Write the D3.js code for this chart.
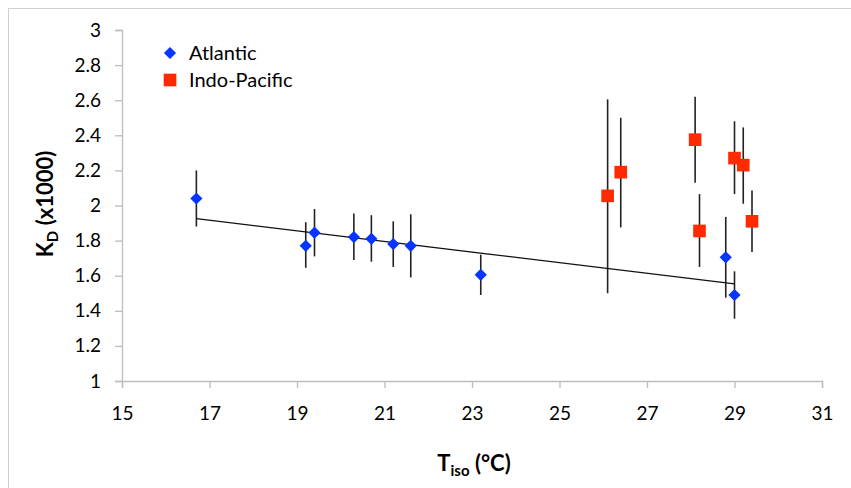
<!DOCTYPE html>
<html>
<head>
<meta charset="utf-8">
<script src="https://cdn.jsdelivr.net/npm/d3@7"></script>
<style>
  body { margin: 0; background: #fff; }
  svg text { font-family: Lato, "Open Sans", sans-serif; fill: #000; }
</style>
</head>
<body>
<svg width="851" height="488"></svg>
<script>
// Atlantic samples: temperature, KD and error bar ends
var atlT  = [16.7, 19.2, 19.4, 20.3, 20.7, 21.2, 21.6, 23.2, 28.8, 29.0];
var atlK  = [2.04, 1.77, 1.845, 1.82, 1.81, 1.78, 1.77, 1.605, 1.705, 1.49];
var atlLo = [1.88, 1.645, 1.71, 1.69, 1.68, 1.65, 1.59, 1.49, 1.475, 1.355];
var atlHi = [2.20, 1.905, 1.98, 1.955, 1.945, 1.91, 1.95, 1.72, 1.935, 1.625];

// Indo-Pacific samples
var ipT  = [26.1, 26.4, 28.1, 28.2, 29.0, 29.2, 29.4];
var ipK  = [2.055, 2.19, 2.375, 1.855, 2.27, 2.23, 1.91];
var ipLo = [1.50, 1.875, 2.13, 1.65, 2.065, 2.01, 1.735];
var ipHi = [2.605, 2.50, 2.62, 2.065, 2.48, 2.445, 2.085];

// Trend line through the Atlantic points
var fitT = [16.7, 29.0];
var fitK = [1.925, 1.553];

var xTicks = [15, 17, 19, 21, 23, 25, 27, 29, 31];
var yTicks = [1, 1.2, 1.4, 1.6, 1.8, 2, 2.2, 2.4, 2.6, 2.8, 3];

var svg = d3.select('svg');

// outer chart border (Excel style)
svg.append('rect')
  .attr('x', 8.5).attr('y', 8.5)
  .attr('width', 900).attr('height', 520)
  .attr('fill', 'none').attr('stroke', '#cfcfcf').attr('stroke-width', 1);

var x = d3.scaleLinear().domain([15, 31]).range([122, 822]);
var y = d3.scaleLinear().domain([1, 3]).range([381, 30]);

// axes
var xAxis = d3.axisBottom(x).tickValues(xTicks).tickSize(7).tickPadding(19).tickFormat(d3.format('d'));
var yAxis = d3.axisLeft(y).tickValues(yTicks).tickSize(7).tickPadding(14).tickFormat(d => d3.format('.1~f')(d));

var gx = svg.append('g').attr('transform', 'translate(0,' + y(1) + ')').call(xAxis);
var gy = svg.append('g').attr('transform', 'translate(' + x(15) + ',0)').call(yAxis);
[gx, gy].forEach(g => {
  g.select('.domain').attr('stroke', '#bdbdbd').attr('stroke-width', 1.3);
  g.selectAll('.tick line').attr('stroke', '#bdbdbd').attr('stroke-width', 1.3);
  g.selectAll('.tick text').attr('font-size', 19).attr('font-family', 'Lato').attr('fill', '#000');
});

// axis titles
var xt = svg.append('text')
  .attr('x', 474).attr('y', 471)
  .attr('text-anchor', 'middle')
  .attr('font-size', 22).attr('font-weight', 'bold');
xt.append('tspan').text('T');
xt.append('tspan').attr('font-size', 15).attr('dy', 5).text('iso');
xt.append('tspan').attr('dy', -5).text(' (°C)');

var yt = svg.append('text')
  .attr('transform', 'translate(53,204) rotate(-90)')
  .attr('text-anchor', 'middle')
  .attr('font-size', 22).attr('font-weight', 'bold');
yt.append('tspan').text('K');
yt.append('tspan').attr('font-size', 15).attr('dy', 5).text('D');
yt.append('tspan').attr('dy', -5).text(' (x1000)');

// error bars
var errs = atlT.map((t, i) => ({t: t, lo: atlLo[i], hi: atlHi[i]}))
  .concat(ipT.map((t, i) => ({t: t, lo: ipLo[i], hi: ipHi[i]})));
svg.append('g').selectAll('line')
  .data(errs).enter()
  .append('line')
  .attr('x1', d => x(d.t)).attr('x2', d => x(d.t))
  .attr('y1', d => y(d.lo)).attr('y2', d => y(d.hi))
  .attr('stroke', '#222').attr('stroke-width', 1.6);

// trend line
var line = d3.line().x(d => x(d[0])).y(d => y(d[1]));
svg.append('path')
  .datum(fitT.map((t, i) => [t, fitK[i]]))
  .attr('d', line)
  .attr('fill', 'none').attr('stroke', '#111').attr('stroke-width', 1.3);

// markers
var diamond = d3.symbol().type(d3.symbolDiamond2).size(95);
var square = d3.symbol().type(d3.symbolSquare).size(160);

svg.append('g').selectAll('path')
  .data(atlT.map((t, i) => [t, atlK[i]])).enter()
  .append('path')
  .attr('d', diamond)
  .attr('transform', d => 'translate(' + x(d[0]) + ',' + y(d[1]) + ')')
  .attr('fill', '#0535ff');

svg.append('g').selectAll('path')
  .data(ipT.map((t, i) => [t, ipK[i]])).enter()
  .append('path')
  .attr('d', square)
  .attr('transform', d => 'translate(' + x(d[0]) + ',' + y(d[1]) + ')')
  .attr('fill', '#ff2a00');

// legend
var legend = [
  {name: 'Atlantic', sym: diamond, color: '#0535ff', y: 53},
  {name: 'Indo-Pacific', sym: square, color: '#ff2a00', y: 80}
];
var lg = svg.append('g').selectAll('g').data(legend).enter().append('g');
lg.append('path')
  .attr('d', d => d.sym())
  .attr('transform', d => 'translate(170,' + d.y + ')')
  .attr('fill', d => d.color);
lg.append('text')
  .attr('x', 189).attr('y', d => d.y + 7)
  .attr('font-size', 20)
  .text(d => d.name);
</script>
</body>
</html>
